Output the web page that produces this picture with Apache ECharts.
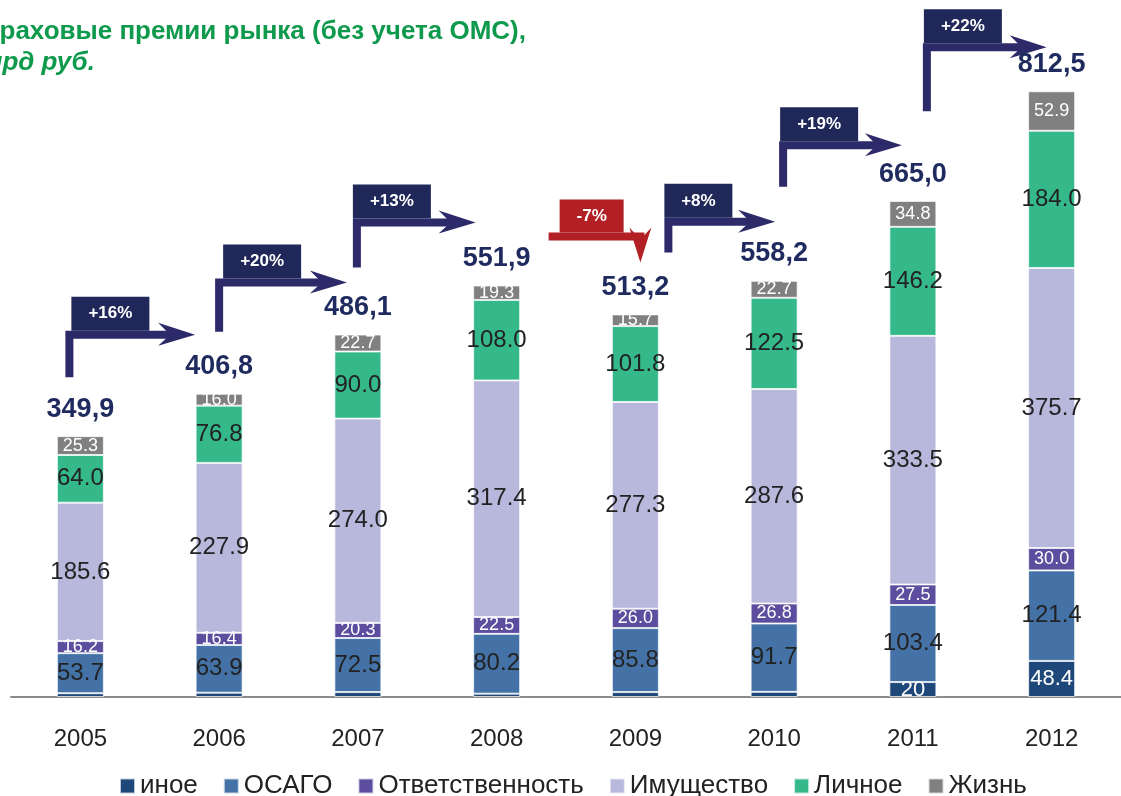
<html>
<head>
<meta charset="utf-8">
<script type="text/javascript" src="https://cdn.jsdelivr.net/npm/echarts@6/dist/echarts.min.js"></script>
<style type="text/css">
	body { margin: 0; background: #fff; }
	#chart { width: 1121px; height: 796px; }
</style>
<title>Страховые премии рынка</title>
</head>
<body>
<div id="chart"></div>
<script type="text/javascript">

// data, млрд руб.
const years = ['2005', '2006', '2007', '2008', '2009', '2010', '2011', '2012'];
const other = [5.1, 5.8, 6.6, 4.5, 6.6, 6.9, 20, 48.4];
const osago = [53.7, 63.9, 72.5, 80.2, 85.8, 91.7, 103.4, 121.4];
const liability = [16.2, 16.4, 20.3, 22.5, 26.0, 26.8, 27.5, 30.0];
const property = [185.6, 227.9, 274.0, 317.4, 277.3, 287.6, 333.5, 375.7];
const personal = [64.0, 76.8, 90.0, 108.0, 101.8, 122.5, 146.2, 184.0];
const life = [25.3, 16.0, 22.7, 19.3, 15.7, 22.7, 34.8, 52.9];
const totals = [349.9, 406.8, 486.1, 551.9, 513.2, 558.2, 665.0, 812.5];
const growth = ['+16%', '+20%', '+13%', '-7%', '+8%', '+19%', '+22%'];

const FONT = "'Liberation Sans', Arial, sans-serif";

function barSeries(name, data, color, labelColor, labelSize, fmt) {
	return {
		name: name,
		type: 'bar',
		stack: 'all',
		barWidth: 47,
		data: data,
		itemStyle: { color: color, borderColor: 'rgba(255,255,255,0.7)', borderWidth: 1 },
		label: {
			show: true,
			position: 'inside',
			color: labelColor,
			fontSize: labelSize,
			fontFamily: FONT,
			formatter: fmt || function (p) { return p.value.toFixed(1); }
		}
	};
}

var myChart = echarts.init(document.getElementById('chart'));

var option = {
	animation: false,
	grid: { left: 11, right: -10, top: 26, bottom: 99 },
	legend: {
		top: 768,
		left: 114,
		icon: 'rect',
		itemWidth: 15,
		itemHeight: 15,
		itemGap: 25,
		textStyle: { fontSize: 26, color: '#222', fontFamily: FONT },
		data: ['иное', 'ОСАГО', 'Ответственность', 'Имущество', 'Личное', 'Жизнь']
	},
	xAxis: {
		type: 'category',
		data: years,
		axisTick: { show: false },
		axisLine: { lineStyle: { color: '#8c8c8c', width: 2 } },
		axisLabel: { fontSize: 24, color: '#222', margin: 30, fontFamily: FONT }
	},
	yAxis: { type: 'value', min: 0, max: 900, show: false, splitLine: { show: false } },
	series: [
		barSeries('иное', other, '#1f487a', '#fff', 22, function (p) {
			return p.value >= 15 ? String(p.value) : '';
		}),
		barSeries('ОСАГО', osago, '#4472a7', '#222', 24),
		barSeries('Ответственность', liability, '#5c4d9f', '#fff', 18),
		barSeries('Имущество', property, '#b8b7dc', '#222', 24),
		barSeries('Личное', personal, '#35b98a', '#222', 24),
		barSeries('Жизнь', life, '#808080', '#fff', 18),
		{
			name: 'total',
			type: 'scatter',
			data: totals,
			symbolSize: 1,
			itemStyle: { color: 'rgba(0,0,0,0)', opacity: 1 },
			z: 10,
			label: {
				show: true,
				position: 'top',
				distance: 13,
				color: '#1f2a5e',
				fontSize: 27,
				fontWeight: 'bold',
				fontFamily: FONT,
				formatter: function (p) { return p.value.toFixed(1).replace('.', ','); }
			}
		}
	]
};
myChart.setOption(option);

// arrows: pixel offsets from bar centers / bar tops (hand placed like the original slide)
const arrowLayout = [
	{ vx: -11, bottom: 59, line: 59, tip: -24, box: 6 },
	{ vx: 0, bottom: 62, line: 52, tip: -11, box: 8 },
	{ vx: -1, bottom: 67, line: 63, tip: -21, box: 0 },
	{ down: true, start: 52, line: 49, turn: 5, tip: 52, box: 11 },
	{ vx: 33, bottom: 62, line: 59, tip: 1, box: 0 },
	{ vx: 9, bottom: 94, line: 56, tip: -11, box: 1 },
	{ vx: 14, bottom: 90, line: 44, tip: -5, box: 1 }
];

function px(i) { return myChart.convertToPixel({ xAxisIndex: 0 }, i); }
function py(v) { return myChart.convertToPixel({ yAxisIndex: 0 }, v); }

var navyLine = '#2d2a69';
var navyBox = '#1f2859';
var red = '#b21f25';
var graphics = [];

arrowLayout.forEach(function (a, i) {
	var x0 = px(i), x1 = px(i + 1);
	var top0 = py(totals[i]), top1 = py(totals[i + 1]);
	if (a.down) {
		var yl = top0 - a.line;
		var sx = x0 + a.start, tx = x1 + a.turn, ty = top1 - a.tip;
		graphics.push({
			type: 'polyline',
			shape: { points: [[sx, yl], [tx, yl], [tx, yl + 4]] },
			style: { stroke: red, lineWidth: 8, fill: null, lineJoin: 'miter' }
		});
		graphics.push({
			type: 'polygon',
			shape: { points: [[tx - 11, yl - 9], [tx, yl + 3], [tx + 11, yl - 9], [tx, ty]] },
			style: { fill: red }
		});
		graphics.push({
			type: 'rect',
			shape: { x: sx + a.box, y: yl - 4 - 33, width: 64, height: 33 },
			style: { fill: red }
		});
		graphics.push({
			type: 'text',
			x: sx + a.box + 32, y: yl - 4 - 16.5,
			style: { text: growth[i], fill: '#fff', font: 'bold 17px ' + FONT, align: 'center', verticalAlign: 'middle' }
		});
		return;
	}
	var vx = x0 + a.vx;
	var yb = top0 - a.bottom;
	var yl2 = top1 - a.line;
	var tx2 = x1 + a.tip;
	graphics.push({
		type: 'polyline',
		shape: { points: [[vx, yb], [vx, yl2], [tx2 - 24, yl2]] },
		style: { stroke: navyLine, lineWidth: 8, fill: null, lineJoin: 'miter' }
	});
	graphics.push({
		type: 'polygon',
		shape: { points: [[tx2 - 37, yl2 - 12], [tx2, yl2], [tx2 - 37, yl2 + 11], [tx2 - 25, yl2]] },
		style: { fill: navyLine }
	});
	var bw = growth[i].length > 3 ? 78 : 68;
	graphics.push({
		type: 'rect',
		shape: { x: vx - 4 + a.box, y: yl2 - 4 - 34, width: bw, height: 34 },
		style: { fill: navyBox }
	});
	graphics.push({
		type: 'text',
		x: vx - 4 + a.box + bw / 2, y: yl2 - 4 - 17,
		style: { text: growth[i], fill: '#fff', font: 'bold 17px ' + FONT, align: 'center', verticalAlign: 'middle' }
	});
});

// title, cut off at the left edge as in the slide
graphics.push({
	type: 'text', x: -32, y: 32,
	style: { text: 'Страховые премии рынка (без учета ОМС),', fill: '#0e9a4c', font: 'bold 26px ' + FONT, verticalAlign: 'middle' }
});
graphics.push({
	type: 'text', x: -33, y: 63,
	style: { text: 'млрд руб.', fill: '#0e9a4c', font: 'italic bold 26px ' + FONT, verticalAlign: 'middle' }
});

myChart.setOption({ graphic: graphics });
</script>
</body>
</html>
